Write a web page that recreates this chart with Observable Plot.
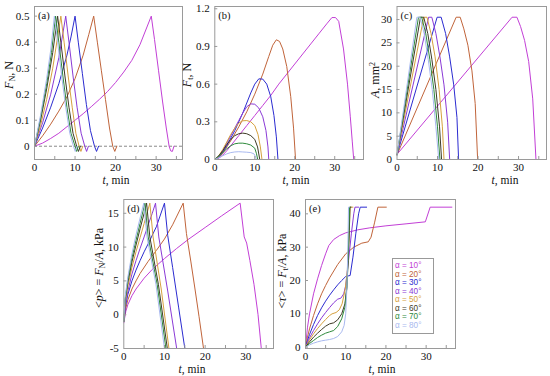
<!DOCTYPE html>
<html><head><meta charset="utf-8">
<script src="https://cdn.jsdelivr.net/npm/d3@7"></script>
<script src="https://cdn.jsdelivr.net/npm/@observablehq/plot@0.6"></script>
<style>
body{margin:0;background:#fff;}
#wrap{position:relative;width:550px;height:376px;overflow:hidden;font-family:"Liberation Serif","Times New Roman",Times,serif;color:#111;}
.p{position:absolute;}
.yl{position:absolute;font-size:12px;white-space:nowrap;transform:translate(-50%,-50%) rotate(-90deg);line-height:12px;}
.xl{position:absolute;font-size:11.5px;white-space:nowrap;transform:translate(-50%,-50%);line-height:11px;}
sub{font-size:8px;vertical-align:-2px;line-height:0;}
sup{font-size:8px;vertical-align:4px;line-height:0;}
.legend{position:absolute;left:392px;top:258px;width:38px;height:71px;border:1px solid #999;background:#fff;font-family:"Liberation Sans",Arial,sans-serif;font-size:8.2px;line-height:8.5px;padding:3px 0 0 2px;}
.legend div{white-space:nowrap;height:8.5px;}
</style></head>
<body><div id="wrap"></div>
<script>
const alphas = [10, 20, 30, 40, 50, 60, 70, 80];
const colors = ["#c23fd6", "#c0643a", "#2b2bd0", "#8a3ad6", "#d6a03e", "#3e3a26", "#2e8a3c", "#a9b9ef"];
const xTicks = [0, 10, 20, 30];
const xMinor = [0, 5, 10, 15, 20, 25, 30, 35];
const fnTicks = [0, 0.1, 0.2, 0.3, 0.4, 0.5];
const ftTicks = [0, 0.3, 0.6, 0.9, 1.2];
const areaTicks = [0, 5, 10, 15, 20, 25, 30];
const pTicks = [-5, 0, 5, 10, 15];
const tauTicks = [0, 10, 20, 30, 40];

// (a) normal force F_N, N  — [t(min), value]
const FN = [
 [[0,0],[2,0.012],[4,0.03],[6,0.05],[8,0.075],[10,0.1],[12,0.125],[14,0.152],[16,0.18],[18,0.21],[20,0.245],[22,0.285],[24,0.33],[26,0.39],[28.8,0.5],[29.6,0.41],[30.6,0.29],[31.6,0.17],[32.5,0.07],[33.2,0],[33.6,-0.018],[34.0,-0.02],[34.4,0]],
 [[0,0],[2,0.04],[4,0.085],[6,0.135],[8,0.19],[10,0.26],[12,0.35],[13.4,0.43],[14.6,0.5],[15.5,0.4],[16.5,0.29],[17.5,0.18],[18.5,0.07],[19.3,0],[19.8,-0.02],[20.3,0]],
 [[0,0],[2,0.07],[4,0.15],[6,0.24],[8,0.35],[9,0.42],[10,0.5],[10.8,0.4],[11.8,0.28],[12.8,0.16],[13.8,0.06],[14.8,0],[15.3,-0.02],[15.8,0]],
 [[0,0],[2,0.09],[4,0.2],[6,0.34],[7.7,0.5],[8.5,0.4],[9.5,0.27],[10.5,0.15],[11.5,0.05],[12.4,0],[12.85,-0.02],[13.3,0]],
 [[0,0],[1.5,0.08],[3,0.18],[4.5,0.3],[6.5,0.5],[7.3,0.4],[8.3,0.27],[9.3,0.15],[10.2,0.05],[11.0,0],[11.45,-0.02],[11.9,0]],
 [[0,0],[1.5,0.1],[3,0.22],[4.5,0.36],[5.7,0.5],[6.5,0.4],[7.5,0.27],[8.5,0.15],[9.5,0.05],[10.4,0],[10.85,-0.02],[11.3,0]],
 [[0,0],[1.5,0.11],[3,0.24],[4.2,0.36],[5.2,0.5],[6.0,0.4],[7.0,0.27],[8.0,0.15],[9.0,0.05],[10.0,0],[10.4,-0.02],[10.8,0]],
 [[0,0],[1.5,0.12],[3,0.26],[4,0.37],[4.9,0.5],[5.7,0.4],[6.7,0.27],[7.7,0.15],[8.7,0.05],[9.6,0],[10.05,-0.02],[10.5,0]]
];
// (b) tangential force F_t, N
const FT = [
 [[0,0],[1,0.01],[2,0.035],[3,0.07],[4,0.11],[6,0.19],[8,0.27],[10,0.35],[12,0.43],[14,0.51],[16,0.6],[18,0.68],[20,0.76],[22,0.84],[24,0.92],[26,1.0],[28,1.08],[29.3,1.13],[30.2,1.13],[31,1.1],[32.2,0.88],[33.2,0.6],[33.9,0.34],[34.4,0.14],[34.75,0]],
 [[0,0],[1,0.015],[2,0.05],[3,0.1],[4,0.15],[6,0.26],[8,0.38],[10,0.52],[12,0.68],[13.5,0.82],[14.5,0.91],[15.4,0.953],[16.2,0.94],[17,0.88],[18,0.74],[19,0.5],[19.7,0.25],[20.2,0]],
 [[0,0],[1,0.02],[2,0.06],[3,0.11],[4,0.17],[5,0.23],[6,0.3],[7,0.37],[8,0.45],[9,0.53],[10,0.6],[11,0.642],[12,0.64],[13,0.6],[14,0.5],[14.8,0.35],[15.4,0.18],[15.8,0]],
 [[0,0],[1,0.025],[2,0.07],[3,0.13],[4,0.19],[5,0.25],[6,0.31],[7,0.37],[8,0.42],[9,0.443],[10,0.44],[11,0.41],[12,0.34],[12.8,0.23],[13.3,0.1],[13.5,0]],
 [[0,0],[1,0.03],[2,0.08],[3,0.14],[4,0.2],[5,0.25],[6,0.29],[7,0.308],[8,0.31],[9,0.3],[10,0.27],[10.8,0.2],[11.4,0.1],[11.8,0]],
 [[0,0],[1,0.03],[2,0.07],[3,0.12],[4,0.16],[5,0.19],[6,0.205],[7,0.21],[8,0.205],[9,0.19],[10,0.16],[10.7,0.1],[11.25,0]],
 [[0,0],[1,0.025],[2,0.055],[3,0.085],[4,0.11],[5,0.125],[6,0.13],[7,0.13],[8,0.125],[9,0.115],[10,0.09],[10.4,0.05],[10.75,0]],
 [[0,0],[1,0.015],[2,0.03],[3,0.045],[4,0.055],[5,0.06],[6,0.062],[7,0.06],[8,0.058],[9,0.055],[9.8,0.045],[10.2,0.02],[10.4,0]]
];
// (c) contact area A, mm²
const AREA = [
 [[0,1.1],[28.4,30.5],[29.6,30.5],[30.5,28.5],[31.5,25.5],[32.5,21],[33.5,13],[34.3,0]],
 [[0,1],[14.6,30.5],[15.6,30.5],[16.5,28],[17.5,24.5],[18.5,19],[19.3,12],[19.9,0]],
 [[0,1],[9.9,30.5],[10.9,30.5],[12,27],[13,22],[14,16],[14.8,9],[15.2,0]],
 [[0,1],[7.8,30.5],[8.6,30.5],[9.6,27],[10.6,22],[11.6,16],[12.5,8],[13.0,0]],
 [[0,1],[6.6,30.5],[7.4,30.5],[8.4,27],[9.4,22],[10.4,15],[11.2,7],[11.6,0]],
 [[0,1],[5.8,30.5],[6.6,30.5],[7.6,27],[8.6,21.5],[9.6,15],[10.5,7],[11.0,0]],
 [[0,1],[5.3,30.5],[6.1,30.5],[7.1,27],[8.1,21.5],[9.1,15],[10.0,7],[10.6,0]],
 [[0,1],[4.9,30.5],[5.7,30.5],[6.7,27],[7.7,21.5],[8.7,15],[9.6,7],[10.3,0]]
];
// (d) mean pressure <p> = F_N/A, kPa
const PRESS = [
 [[0,-1.2],[0.5,0.5],[1,1.5],[2,2.8],[3,3.8],[5,5.4],[7,6.7],[10,8.3],[13,9.8],[16,11.2],[20,12.9],[24,14.6],[28.6,16.5],[29.6,11.5],[30.2,10.6],[31,8],[32,4.5],[33,0],[33.8,-5]],
 [[0,-1],[0.5,1],[1,2.2],[2,3.8],[3,5],[4,6.1],[6,7.9],[8,9.5],[10,11.2],[12,13.3],[14.6,16.5],[15.4,12],[16.5,7.8],[17.5,3.8],[18.5,-0.3],[19.6,-5]],
 [[0,-1],[0.5,1.5],[1,3],[2,5],[3,6.6],[4,8],[5,9.3],[6,10.5],[8,13],[10,16.5],[10.8,11.7],[12,7],[13.5,1],[15,-5]],
 [[0,-1],[0.4,1.5],[1,3.5],[2,6],[3,8],[4,9.8],[5,11.5],[6,13.3],[7,15],[7.8,16.5],[8.6,11.5],[10.8,3.5],[13.0,-5]],
 [[0,-1],[0.4,2],[1,4.2],[2,7],[3,9.3],[4,11.4],[5,13.5],[6.4,16.5],[7.2,11.5],[9.2,3.8],[11.1,-5]],
 [[0,-1],[0.3,2],[1,4.8],[2,7.8],[3,10.3],[4,12.7],[5,15],[5.6,16.5],[6.4,11.5],[8.5,4.5],[10.7,-5]],
 [[0,-1],[0.3,2.2],[1,5.2],[2,8.4],[3,11],[4,13.5],[5.2,16.5],[6.0,11.5],[8.2,4.5],[10.35,-5]],
 [[0,-1],[0.3,2.5],[1,5.6],[2,9],[3,11.8],[4,14.3],[4.9,16.5],[5.7,11.5],[7.9,4.5],[10.0,-5]]
];
// (e) mean shear stress <τ> = F_t/A, kPa
const SHEAR = [
 [[0,0],[0.5,6],[1,10],[2,16],[3,20.5],[4,24.5],[5,28],[5.8,30.5],[7,32.3],[8.5,33.5],[10,34.3],[13,35.2],[16,35.8],[20,36.4],[25,37],[29.8,37.6],[31,42],[36.4,42]],
 [[0,0],[0.5,3],[1,5.5],[2,9.5],[3,13],[4,16],[5,18.5],[6,20.8],[8,24.8],[10,28],[12,30],[14,31.2],[15.6,31.6],[16.3,33],[17.2,37.5],[18.0,42],[20.1,42]],
 [[0,0],[0.5,2],[1,3.8],[2,6.8],[3,9.5],[4,11.8],[5,13.8],[6,15.6],[7,17.2],[8,18.7],[9,20],[10,21.2],[11.1,21.5],[11.8,27],[12.5,34],[13.2,40],[13.6,42],[15.2,42]],
 [[0,0],[1,2.8],[2,5],[3,7],[4,8.8],[5,10.4],[6,11.9],[7,13.3],[8,14.4],[8.8,14.7],[9.5,16],[10,18.5],[10.7,26],[11.4,34],[12,40],[12.3,42],[13.2,42]],
 [[0,0],[1,2.2],[2,4],[3,5.6],[4,7],[5,8.3],[6,9.5],[6.6,10],[7.6,10.4],[8.4,11.2],[9.1,13],[9.9,17.5],[10.4,23],[10.8,32],[11.1,42],[11.8,42]],
 [[0,0],[1,1.6],[2,3],[3,4.2],[4,5.3],[5,6.3],[6,7],[7,7.3],[8,8.2],[9,10],[9.8,13],[10.3,18],[10.6,26],[10.9,35],[11.05,42],[11.3,42]],
 [[0,0],[1,1.1],[2,2],[3,2.9],[4,3.6],[5,4.2],[6,4.6],[7,5],[8,6.2],[9,8.5],[9.8,12],[10.3,18],[10.6,27],[10.8,35],[10.95,42],[11.1,42]],
 [[0,0],[1,0.7],[2,1.2],[3,1.6],[4,1.9],[5,2.1],[6,2.3],[7,2.6],[8,3.2],[9,4.6],[9.6,6.5],[10,10],[10.3,18],[10.5,28],[10.7,42],[10.9,42]]
];

const panels = [
 {label:"(a)", data:FN, yt:fnTicks, xd:[0,36.5], yd:[-0.051,0.537], left:0, top:0, w:185, h:185, ml:34, mr:3, mt:6, mb:26, zero:true},
 {label:"(b)", data:FT, yt:ftTicks, xd:[0,37.2], yd:[0,1.218], left:185, top:0, w:180, h:185, ml:29.3, mr:2, mt:6, mb:26},
 {label:"(c)", data:AREA, yt:areaTicks, xd:[0,36.9], yd:[0,32.8], left:365, top:0, w:185, h:185, ml:31.5, mr:4, mt:6, mb:26},
 {label:"(d)", data:PRESS, yt:pTicks, xd:[0,36.8], yd:[-5,17.04], left:90, top:185, w:185, h:191, ml:33.3, mr:2, mt:14, mb:28},
 {label:"(e)", data:SHEAR, yt:tauTicks, xd:[0,37.3], yd:[-0.4,44.3], left:275, top:185, w:185, h:191, ml:30, mr:5, mt:14, mb:28}
];

const serif = '"Liberation Serif","Times New Roman",Times,serif';
const wrap = document.getElementById("wrap");
for (const cfg of panels) {
  const rows = cfg.data.flatMap((pts, i) => pts.map(([t, v]) => ({t, v, alpha: alphas[i]})));
  const fh = cfg.h - cfg.mt - cfg.mb;
  const fw = cfg.w - cfg.ml - cfg.mr;
  const ty = 3 * (cfg.yd[1] - cfg.yd[0]) / fh;
  const tx = 3 * (cfg.xd[1] - cfg.xd[0]) / fw;
  const marks = [];
  if (cfg.zero) marks.push(Plot.ruleY([0], {stroke: "#8a8a8a", strokeDasharray: "3,2"}));
  marks.push(Plot.line(rows, {x: "t", y: "v", z: "alpha", stroke: "alpha", strokeWidth: 1, clip: true}));
  marks.push(Plot.ruleX(xMinor.filter(d => d > 0), {x: d => d, y1: cfg.yd[0], y2: cfg.yd[0] + ty, stroke: "#999"}));
  marks.push(Plot.ruleY(cfg.yt.filter(d => d > cfg.yd[0]), {y: d => d, x1: cfg.xd[0], x2: cfg.xd[0] + tx, stroke: "#999"}));
  marks.push(Plot.frame({stroke: "#9a9a9a"}));
  marks.push(Plot.text([cfg.label], {frameAnchor: "top-left", dx: 3.5, dy: 5, textAnchor: "start", lineAnchor: "top", fontSize: 10.5, fill: "#111", fontFamily: serif}));
  const svg = Plot.plot({
    width: cfg.w, height: cfg.h,
    marginLeft: cfg.ml, marginRight: cfg.mr, marginTop: cfg.mt, marginBottom: cfg.mb,
    x: {domain: cfg.xd, ticks: xTicks, tickSize: 0, tickPadding: 4, label: null, tickFormat: d => String(d)},
    y: {domain: cfg.yd, ticks: cfg.yt, tickSize: 0, tickPadding: 5, label: null, tickFormat: d => String(d)},
    color: {type: "ordinal", domain: alphas, range: colors},
    style: {fontFamily: serif, fontSize: "11px", background: "transparent", color: "#111", overflow: "visible"},
    marks
  });
  svg.classList.add("p");
  svg.style.left = cfg.left + "px";
  svg.style.top = cfg.top + "px";
  wrap.appendChild(svg);
}

const yLabels = [
  {html: "<i>F</i><sub>N</sub>, N", x: 9, y: 75},
  {html: "<i>F</i><sub>t</sub>, N", x: 187, y: 75},
  {html: "<i>A</i>, mm<sup>2</sup>", x: 375, y: 80},
  {html: "&lt;<i>p</i>&gt; = <i>F</i><sub>N</sub>/<i>A</i>, kPa", x: 99, y: 268},
  {html: "&lt;<i>τ</i>&gt; = <i>F</i><sub>t</sub>/<i>A</i>, kPa", x: 282, y: 271}
];
for (const l of yLabels) {
  const d = document.createElement("div");
  d.className = "yl"; d.innerHTML = l.html;
  d.style.left = l.x + "px"; d.style.top = l.y + "px";
  wrap.appendChild(d);
}
const xLabels = [{x: 116, y: 179.5}, {x: 296, y: 179.5}, {x: 505, y: 179.5}, {x: 192, y: 368.5}, {x: 382, y: 368.5}];
for (const l of xLabels) {
  const d = document.createElement("div");
  d.className = "xl"; d.innerHTML = "<i>t</i>, min";
  d.style.left = l.x + "px"; d.style.top = l.y + "px";
  wrap.appendChild(d);
}
const leg = document.createElement("div");
leg.className = "legend";
alphas.forEach((a, i) => {
  const r = document.createElement("div");
  r.style.color = colors[i];
  r.textContent = "α = " + a + "°";
  leg.appendChild(r);
});
wrap.appendChild(leg);
</script>
</body></html>
